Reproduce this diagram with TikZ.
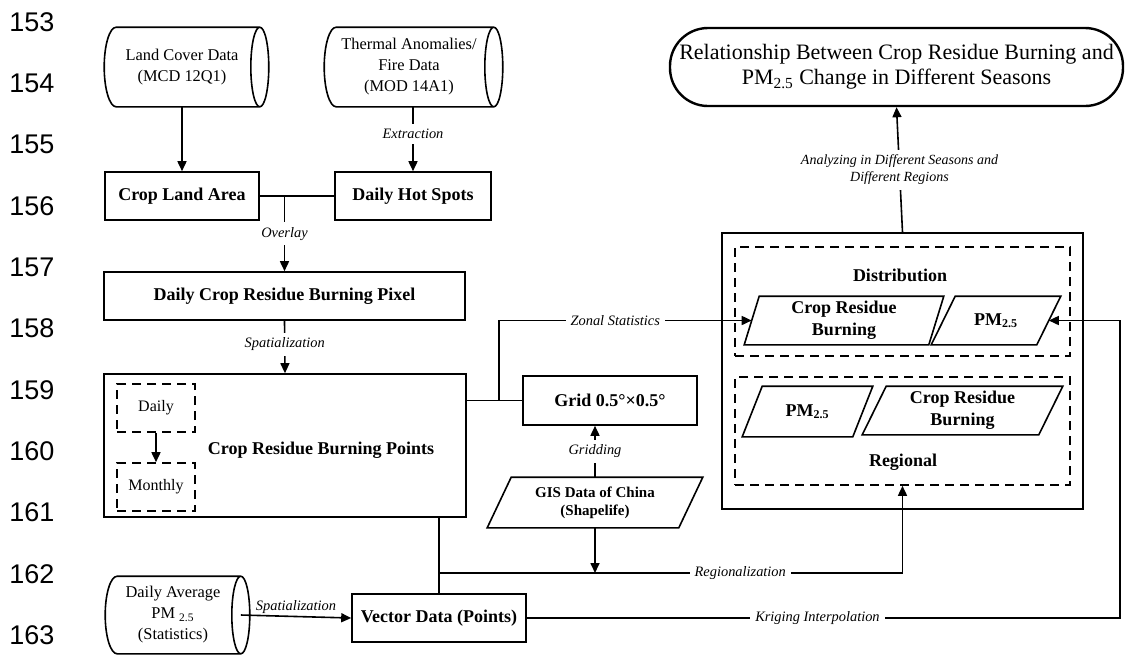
\documentclass[tikz,border=0pt]{standalone}
\usepackage{fontspec}
\setmainfont{Liberation Serif}
\newfontfamily\linenofont{Liberation Sans}
\usetikzlibrary{arrows.meta, positioning, shapes.geometric, calc}

% stored data outline round a plain node
\newcommand{\storeshape}[1]{%
  \draw let \p1=(#1.north), \p2=(#1.south), \n1={(\y1-\y2)/2} in
    ([xshift=6pt]#1.north west) arc[start angle=90, end angle=270, x radius=6pt, y radius=\n1]
    -- (#1.south east) arc[start angle=-90, end angle=90, x radius=4.5pt, y radius=\n1]
    -- cycle
    (#1.north east) arc[start angle=90, end angle=270, x radius=4.5pt, y radius=\n1];
}
% slanted data box round a plain node (#2 = slant)
\newcommand{\parashape}[2]{%
  \draw ([xshift=#2]#1.north west) -- (#1.north east) -- ([xshift=-#2]#1.south east) -- (#1.south west) -- cycle;
}

\begin{document}
\begin{tikzpicture}[x=0.5pt, y=-0.5pt, line width=0.8pt,
    >={Triangle[length=5pt, width=4.5pt]},
    box/.style={draw, rectangle, inner sep=0pt, align=center, font=\fontsize{9}{11}\selectfont\bfseries},
    dbox/.style={draw, rectangle, dash pattern=on 4.5pt off 3pt, inner sep=0pt, font=\fontsize{8}{10}\selectfont},
    store/.style={rectangle, inner sep=0pt, align=center, font=\fontsize{8.2}{10.5}\selectfont},
    para/.style={rectangle, inner sep=0pt, align=center, font=\fontsize{9}{11}\selectfont\bfseries},
    lbl/.style={fill=white, inner sep=2.5pt, align=center, font=\fontsize{7.2}{8.5}\selectfont\itshape},
    ttl/.style={font=\fontsize{9}{11}\selectfont\bfseries}]
    \useasboundingbox (0,0) rectangle (1125,655);
    % Line numbers
    \foreach \n [count=\i from 0] in {153,...,163}
        \node[font=\linenofont\fontsize{13.5}{14}\selectfont] (ln\n) at (32,22+61.3*\i) {\n};
    % Data sources
    \node[store, minimum width=77pt, minimum height=39pt] (landcover) at (182,67) {Land Cover Data\\(MCD 12Q1)};
    \node[store, minimum width=84pt, minimum height=39pt] (thermal) at (409,67) {Thermal Anomalies/\\Fire Data\\(MOD 14A1)};
    \node[store, minimum width=67pt, minimum height=38pt] (pmdata) at (173,615) {Daily Average\\PM \textsubscript{2.5}\\(Statistics)};
    \storeshape{landcover}
    \storeshape{thermal}
    \storeshape{pmdata}
    % Processing
    \node[box, minimum width=77pt, minimum height=24pt] (cropland) at (182,196) {Crop Land Area};
    \node[box, minimum width=78pt, minimum height=24pt] (hotspots) at (413,196) {Daily Hot Spots};
    \node[box, minimum width=180.5pt, minimum height=24pt] (pixel) at (284.5,296) {Daily Crop Residue Burning Pixel};
    \node[box, minimum width=181pt, minimum height=71.5pt] (points) at (285,445.5) {};
    \node[ttl] (pointstext) at (321,450) {Crop Residue Burning Points};
    \node[dbox, minimum width=39pt, minimum height=24pt] (daily) at (156,408) {Daily};
    \node[dbox, minimum width=39pt, minimum height=24pt] (monthly) at (156,487) {Monthly};
    \node[box, minimum width=87pt, minimum height=24.5pt] (grid) at (610,400.5) {Grid 0.5°×0.5°};
    \node[para, minimum width=107pt, minimum height=24.5pt, font=\fontsize{7.5}{9}\selectfont\bfseries] (gis) at (595,502.5) {GIS Data of China\\(Shapelife)};
    \parashape{gis}{12pt}
    \node[box, minimum width=87pt, minimum height=24pt] (vector) at (439,618) {Vector Data (Points)};
    % Results
    \node[draw, rectangle, minimum width=180.5pt, minimum height=138pt] (result) at (902.5,371) {};
    \node[dbox, minimum width=167.5pt, minimum height=54.5pt] (distbox) at (902.5,301.5) {};
    \node[dbox, minimum width=167.5pt, minimum height=54pt] (regbox) at (902.5,431) {};
    \node[ttl] (disttext) at (900,275) {Distribution};
    \node[ttl] (regtext) at (903,462) {Regional};
    \node[para, minimum width=99pt, minimum height=23.5pt] (burnD) at (844,320.5) {Crop Residue\\Burning};
    \node[para, minimum width=64pt, minimum height=23.5pt] (pmD) at (996,320.5) {PM\textsubscript{2.5}};
    \node[para, minimum width=64.5pt, minimum height=24.5pt] (pmR) at (807.5,411.5) {PM\textsubscript{2.5}};
    \node[para, minimum width=99.5pt, minimum height=23.5pt] (burnR) at (962.5,410.5) {Crop Residue\\Burning};
    \parashape{burnD}{7.5pt}
    \parashape{pmD}{12pt}
    \parashape{pmR}{10pt}
    \parashape{burnR}{12pt}
    \node[draw, rounded corners=19pt, line width=1.2pt, minimum width=226.5pt, minimum height=39pt, align=center,
        font=\fontsize{11}{12.5}\selectfont] (goal) at (896.5,67) {Relationship Between Crop Residue Burning and\\PM\textsubscript{2.5} Change in Different Seasons};
    % Connectors
    \draw[->] (cropland.north |- landcover.south) -- (cropland.north);
    \draw[->] (hotspots.north |- thermal.south) -- node[lbl, pos=0.42] {Extraction} (hotspots.north);
    \draw (cropland.east) -- (hotspots.west);
    \coordinate (overlay) at (cropland.east -| pixel.north);
    \draw[->] (overlay) -- node[lbl] {Overlay} (pixel.north);
    \draw[->] (pixel.south) -- node[lbl, pos=0.45] {Spatialization} (points.north);
    \draw[->] (daily.south) -- (monthly.north);
    \coordinate (zonal) at (499,400.5);
    \draw (points.east |- grid.west) -- (grid.west);
    \draw[->] (zonal) |- node[lbl, pos=0.73] {Zonal Statistics} ([xshift=3.75pt]burnD.west);
    \draw[->] (gis.north) -- node[lbl] {Gridding} (gis.north |- grid.south);
    \coordinate (region) at (439,573);
    \draw (vector.north |- points.south) -- (vector.north);
    \draw[->] (region) -| node[lbl, pos=0.325] {Regionalization} (regbox.south);
    \draw[->] (gis.south) -- (gis.south |- region);
    \draw[->] (pmdata.east) -- node[above, inner sep=1pt, font=\fontsize{7.2}{8.5}\selectfont\itshape] {Spatialization} (vector.west);
    \coordinate (kriging) at (1120,618);
    \draw[->] (vector.east) -- node[lbl, pos=0.49] {Kriging Interpolation} (kriging) |- ([xshift=-6pt]pmD.east);
    \draw[->] (result.north) -- node[lbl, font=\fontsize{7}{8.5}\selectfont\itshape] {Analyzing in Different Seasons and\\Different Regions} (goal.south);
\end{tikzpicture}
\end{document}
